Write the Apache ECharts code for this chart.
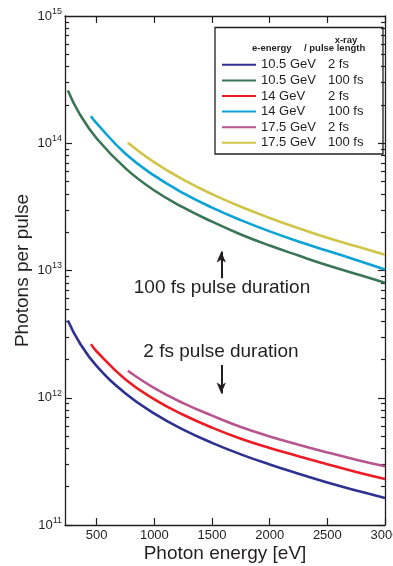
<!DOCTYPE html>
<html>
<head>
<meta charset="utf-8">
<title>Photons per pulse</title>
<script src="https://cdn.jsdelivr.net/npm/echarts@6/dist/echarts.min.js"></script>
<style>
  html, body { margin: 0; padding: 0; background: #fff; }
  #chart { width: 393px; height: 566px; }
</style>
</head>
<body>
<div id="chart"></div>
<script>
// photon energy [eV] sample points, one list per electron energy
const energy105 = [250, 350, 500, 750, 1000, 1250, 1500, 1750, 2000, 2250, 2500, 2750, 3000]
const energy14 = [450, 500, 750, 1000, 1250, 1500, 1750, 2000, 2250, 2500, 2750, 3000]
const energy175 = [770, 1000, 1250, 1500, 1750, 2000, 2250, 2500, 2750, 3000]

// photons per pulse
const gev105fs2 = [4.05e12, 2.72e12, 1.77e12, 1.08e12, 7.5e11, 5.62e11, 4.42e11, 3.59e11, 2.99e11, 2.53e11, 2.16e11, 1.87e11, 1.63e11]
const gev105fs100 = [2.6e14, 1.71e14, 1.09e14, 6.35e13, 4.25e13, 3.13e13, 2.42e13, 1.92e13, 1.57e13, 1.31e13, 1.10e13, 9.4e12, 8.0e12]
const gev14fs2 = [2.64e12, 2.31e12, 1.39e12, 9.7e11, 7.35e11, 5.82e11, 4.76e11, 4.03e11, 3.47e11, 3.0e11, 2.61e11, 2.30e11]
const gev14fs100 = [1.63e14, 1.43e14, 8.26e13, 5.56e13, 4.06e13, 3.12e13, 2.49e13, 2.03e13, 1.69e13, 1.43e13, 1.21e13, 1.02e13]
const gev175fs2 = [1.63e12, 1.19e12, 9.08e11, 7.24e11, 5.89e11, 4.97e11, 4.28e11, 3.72e11, 3.26e11, 2.89e11]
const gev175fs100 = [1.01e14, 7.08e13, 5.18e13, 3.98e13, 3.17e13, 2.59e13, 2.15e13, 1.81e13, 1.55e13, 1.33e13]

// legend columns
const eEnergies = ['10.5 GeV', '10.5 GeV', '14 GeV', '14 GeV', '17.5 GeV', '17.5 GeV']
const pulseLengths = ['2 fs', '100 fs', '2 fs', '100 fs', '2 fs', '100 fs']

// ticks (top label nudged just under 1e15 so it is not dropped at the axis end)
const xTicks = [500, 1000, 1500, 2000, 2500, 3000]
const yMajor = [1e11, 1e12, 1e13, 1e14, 1e15]
const yLabels = [1e11, 1e12, 1e13, 1e14, 0.99999e15]

const colors = ['#2e3192', '#3b7558', '#ed1c24', '#0aa3d6', '#b9558e', '#cfc548']
const ink = '#231f20'
const FONT = '"Liberation Sans", Arial, Helvetica, sans-serif'

// minor log ticks 2..9 within each decade
const yMinor = []
for (let d = 11; d < 15; d++) {
  for (let m = 2; m <= 9; m++) yMinor.push(m * Math.pow(10, d))
}

const xs = [energy105, energy105, energy14, energy14, energy175, energy175]
const ys = [gev105fs2, gev105fs100, gev14fs2, gev14fs100, gev175fs2, gev175fs100]

const chart = echarts.init(document.getElementById('chart'))

const seriesList = ys.map((vals, i) => ({
  name: eEnergies[i] + ' / ' + pulseLengths[i],
  type: 'line',
  smooth: 0.45,
  showSymbol: false,
  lineStyle: { width: 2.6, color: colors[i] },
  itemStyle: { color: colors[i] },
  data: vals.map((v, k) => [xs[i][k], v])
}))

// the two arrows next to the annotations
seriesList[1].markLine = {
  silent: true,
  symbol: ['none', 'arrow'],
  symbolSize: [7, 11],
  label: { show: false },
  lineStyle: { color: ink, width: 2, type: 'solid' },
  data: [
    [{ coord: [1580, 8.7e12] }, { coord: [1580, 1.41e13] }],
    [{ coord: [1580, 1.81e12] }, { coord: [1580, 1.08e12] }]
  ]
}

const axisLine = { show: true, lineStyle: { color: ink, width: 1.3 } }
const tickLine = { color: ink, width: 1.2 }

function logAxis(position, major) {
  return {
    type: 'log',
    logBase: 10,
    min: 1e11,
    max: 1e15,
    position: position,
    axisLine: major ? axisLine : { show: false },
    splitLine: { show: false },
    axisTick: {
      inside: true,
      length: major ? 7 : 4,
      lineStyle: tickLine,
      customValues: major ? yMajor : yMinor
    },
    axisLabel: { show: false }
  }
}

const yLeft = logAxis('left', true)
yLeft.axisLabel = {
  show: true,
  customValues: yLabels,
  showMinLabel: true,
  showMaxLabel: true,
  hideOverlap: false,
  margin: 3,
  fontFamily: FONT,
  formatter: v => '{n|10}{e|' + Math.round(Math.log10(v)) + '}',
  rich: {
    n: { fontSize: 13, color: ink, fontFamily: FONT },
    e: { fontSize: 9, color: ink, fontFamily: FONT, padding: [0, 0, 9, 0] }
  }
}
yLeft.name = 'Photons per pulse'
yLeft.nameLocation = 'middle'
yLeft.nameGap = 33
yLeft.nameMoveOverlap = false
yLeft.nameTextStyle = { fontSize: 19, color: ink, fontFamily: FONT }

const option = {
  animation: false,
  grid: { left: 65, right: 8, top: 16, bottom: 41, outerBoundsMode: 'none', containLabel: false },
  legend: {
    orient: 'vertical',
    left: 222,
    top: 57,
    icon: 'rect',
    itemWidth: 34,
    itemHeight: 2,
    itemGap: 0,
    padding: 0,
    selectedMode: false,
    data: seriesList.map(s => s.name),
    formatter: name => {
      const parts = name.split(' / ')
      return '{a|' + parts[0] + '}{b|' + parts[1] + '}'
    },
    textStyle: {
      lineHeight: 15.6,
      rich: {
        a: { width: 67, fontSize: 13, color: ink, fontFamily: FONT, lineHeight: 15.6 },
        b: { fontSize: 13, color: ink, fontFamily: FONT, lineHeight: 15.6 }
      }
    }
  },
  xAxis: [
    {
      type: 'value',
      min: 225,
      max: 3000,
      position: 'bottom',
      axisLine: axisLine,
      splitLine: { show: false },
      axisTick: { inside: true, length: 7, lineStyle: tickLine, customValues: xTicks },
      axisLabel: {
        customValues: xTicks,
        showMaxLabel: true,
        hideOverlap: false,
        formatter: v => String(v),
        fontSize: 13, color: ink, fontFamily: FONT, margin: 4
      },
      name: 'Photon energy [eV]',
      nameLocation: 'middle',
      nameGap: 19,
      nameMoveOverlap: false,
      nameTextStyle: { fontSize: 19, color: ink, fontFamily: FONT }
    },
    {
      type: 'value',
      min: 225,
      max: 3000,
      position: 'top',
      axisLine: axisLine,
      splitLine: { show: false },
      axisTick: { inside: true, length: 7, lineStyle: tickLine, customValues: xTicks },
      axisLabel: { show: false }
    }
  ],
  yAxis: [yLeft, logAxis('left', false), logAxis('right', true), logAxis('right', false)],
  series: seriesList,
  graphic: [
    // legend frame and its two-line header
    {
      type: 'rect',
      shape: { x: 215, y: 27.5, width: 168, height: 126.5 },
      style: { fill: 'none', stroke: ink, lineWidth: 1.3 },
      z: 10
    },
    {
      type: 'text',
      x: 346, y: 40,
      style: { text: 'x-ray', font: 'bold 9.5px "Liberation Sans Narrow", ' + FONT, fill: ink, align: 'center', verticalAlign: 'middle' },
      z: 10
    },
    {
      type: 'text',
      x: 252, y: 48,
      style: { text: 'e-energy', font: 'bold 9.5px "Liberation Sans Narrow", ' + FONT, fill: ink, verticalAlign: 'middle' },
      z: 10
    },
    {
      type: 'text',
      x: 304, y: 48,
      style: { text: '/ pulse length', font: 'bold 9.5px "Liberation Sans Narrow", ' + FONT, fill: ink, verticalAlign: 'middle' },
      z: 10
    },
    // annotations
    {
      type: 'text',
      x: 222, y: 288,
      style: { text: '100 fs pulse duration', font: '19px ' + FONT, fill: ink, align: 'center', verticalAlign: 'middle' },
      z: 10
    },
    {
      type: 'text',
      x: 221, y: 352,
      style: { text: '2 fs pulse duration', font: '19px ' + FONT, fill: ink, align: 'center', verticalAlign: 'middle' },
      z: 10
    }
  ]
}

chart.setOption(option)
</script>
</body>
</html>
